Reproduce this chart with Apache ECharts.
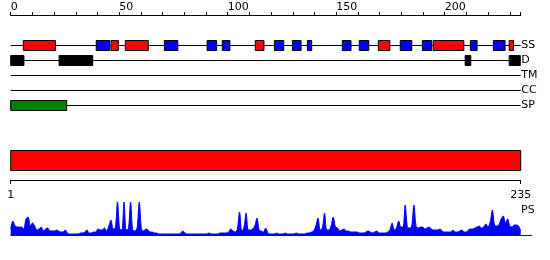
<!DOCTYPE html>
<html><head><meta charset="utf-8">
<script src="https://cdn.jsdelivr.net/npm/echarts@6/dist/echarts.min.js"></script>
<style>html,body{margin:0;padding:0;background:#fff}#c{width:550px;height:260px}</style>
</head><body><div id="c"></div>
<script>
// ---- data ----
const trackNames = ['SS', 'D', 'TM', 'CC', 'SP'];
const topTicks = [0, 50, 100, 150, 200];
const bottomTicks = [1, 235];
const sequenceSpan = [1, 235];
const helices = [[5.8,20.6],[46.2,49.6],[52.8,63.4],[112.7,116.7],[169.4,174.7],[194.7,208.8],[229.7,231.7]];
const strands = [[39.4,45.6],[70.8,77],[90.5,94.9],[97.5,101],[121.5,125.8],[129.8,133.8],[136.7,138.7],[152.8,156.8],[160.6,165],[179.5,184.8],[189.7,194],[211.8,214.9],[222.4,227.8]];
const disorder = [[0,6.1],[22.3,37.8],[209.4,212],[229.7,234.8]];
const transmembrane = [];
const coiledCoil = [];
const signalPeptide = [[0,25.8]];
const psValues = [
  6,14,9,8,8,8,6,16,18,9,
  12,9,5,6,8,4,6,7,4,4,
  4,5,4,3,3,5,2,1,1,1,
  1,1,2,2,3,5,2,2,3,3,
  6,5,5,7,4,9,15,6,7,33,
  6,5,33,5,6,33,5,4,7,33,
  6,4,6,5,3,3,2,2,1,1,
  1,1,1,1,1,1,1,1,2,4,
  2,1,1,1,1,1,1,1,1,1,
  1,2,1,1,1,1,2,2,2,2,
  3,6,4,3,6,23,4,7,22,5,
  5,6,9,17,5,4,3,7,2,1,
  1,1,2,1,1,1,2,1,1,1,
  1,2,1,1,1,1,2,2,3,4,
  9,17,5,7,22,5,5,9,18,8,
  7,4,5,6,4,4,3,3,3,3,
  2,2,2,3,4,3,2,3,4,2,
  2,2,2,3,5,12,5,7,14,8,
  8,30,8,7,9,30,9,7,8,8,
  6,7,8,6,5,5,5,6,4,3,
  3,3,3,5,3,3,4,5,3,3,
  5,6,6,7,8,9,7,8,11,8,
  13,25,10,9,10,16,19,12,16,9,
  8,10,10,9,4
];

// ---- build ----
const FONT = 'DejaVu Sans';
const boxData = [], boxColors = [];
function addBoxes(list, track, color) {
  list.forEach(([s, e]) => { boxData.push([s, e, track]); boxColors.push(color); });
}
addBoxes(helices, 0, '#ff0000');
addBoxes(strands, 0, '#0000ff');
addBoxes(disorder, 1, '#000000');
addBoxes(transmembrane, 2, '#ffa500');
addBoxes(coiledCoil, 3, '#800080');
addBoxes(signalPeptide, 4, '#008000');
const trackY = i => i + 2;
const HALF = 0.34;

const chart = echarts.init(document.getElementById('c'), null, { renderer: 'canvas' });
chart.setOption({
  animation: false,
  textStyle: { fontFamily: FONT },
  grid: [
    { left: 10.7, right: 29.3, top: 15, height: 105 },
    { left: 10.7, right: 29.3, top: 150, height: 30 },
    { left: 10.7, right: 18.4, top: 201, height: 34 }
  ],
  xAxis: [
    { gridIndex: 0, type: 'value', position: 'top', min: 0, max: 235, interval: 10,
      axisLine: { lineStyle: { color: '#000', width: 1 } },
      axisTick: { length: 3, lineStyle: { color: '#000' } },
      axisLabel: { formatter: v => topTicks.includes(v) ? String(v) : '', align: 'left', margin: 2,
        color: '#000', fontFamily: FONT, fontSize: 11 },
      splitLine: { show: false } },
    { gridIndex: 1, type: 'value', position: 'bottom', min: sequenceSpan[0], max: sequenceSpan[1],
      axisLine: { lineStyle: { color: '#000', width: 1 } },
      axisTick: { customValues: bottomTicks, length: 4, lineStyle: { color: '#000' } },
      axisLabel: { customValues: bottomTicks, margin: 10, color: '#000', fontFamily: FONT, fontSize: 11 },
      splitLine: { show: false } },
    { gridIndex: 2, type: 'value', min: 1, max: 240,
      axisLine: { lineStyle: { color: '#0000ff', width: 1 } },
      axisTick: { show: false }, axisLabel: { show: false }, splitLine: { show: false } }
  ],
  yAxis: [
    { gridIndex: 0, type: 'value', min: 0, max: 7, inverse: true, show: false },
    { gridIndex: 1, type: 'value', min: 0, max: 3, show: false },
    { gridIndex: 2, type: 'value', min: 0, max: 34, show: false }
  ],
  graphic: [
    { type: 'text', left: 521, top: 205, style: { text: 'PS', font: '11px "DejaVu Sans"', fill: '#000' } }
  ],
  series: [
    { type: 'custom', xAxisIndex: 0, yAxisIndex: 0, encode: { x: [0, 1], y: 2 },
      data: trackNames.map((n, i) => [0, 235, i]),
      renderItem: (params, api) => {
        const t = trackY(api.value(2));
        const a = api.coord([api.value(0), t]);
        const b = api.coord([api.value(1), t]);
        const y = Math.round(a[1]) + 0.5;
        return { type: 'group', children: [
          { type: 'line', shape: { x1: a[0], y1: y, x2: b[0], y2: y }, style: { stroke: '#000', lineWidth: 1 } },
          { type: 'text', x: b[0] + 0.5, y: y, style: { text: trackNames[params.dataIndex], fill: '#000',
            font: '11px "DejaVu Sans"', align: 'left', verticalAlign: 'middle' } }
        ] };
      } },
    { type: 'custom', xAxisIndex: 0, yAxisIndex: 0, encode: { x: [0, 1], y: 2 },
      data: boxData,
      renderItem: (params, api) => {
        const t = trackY(api.value(2));
        const p1 = api.coord([api.value(0), t - HALF]);
        const p2 = api.coord([api.value(1), t + HALF]);
        const y0 = Math.round(Math.min(p1[1], p2[1])) + 0.5;
        const y1 = Math.round(Math.max(p1[1], p2[1])) + 0.5;
        return { type: 'rect', shape: { x: p1[0], y: y0, width: p2[0] - p1[0], height: y1 - y0 },
          style: { fill: boxColors[params.dataIndex], stroke: '#000', lineWidth: 1 } };
      } },
    { type: 'custom', xAxisIndex: 1, yAxisIndex: 1, encode: { x: [0, 1] },
      data: [sequenceSpan],
      renderItem: (params, api) => {
        const p1 = api.coord([api.value(0), 3]);
        const p2 = api.coord([api.value(1), 1]);
        const y0 = Math.round(p1[1]) + 0.5, y1 = Math.round(p2[1]) + 0.5;
        return { type: 'rect', shape: { x: p1[0], y: y0, width: p2[0] - p1[0], height: y1 - y0 },
          style: { fill: '#ff0000', stroke: '#000', lineWidth: 1 } };
      } },
    { type: 'line', xAxisIndex: 2, yAxisIndex: 2,
      data: psValues.map((v, i) => [i + 1, v]),
      symbol: 'none', smooth: 0.3,
      lineStyle: { color: '#0000ff', width: 1 },
      itemStyle: { color: '#0000ff' },
      areaStyle: { color: '#0000ff', opacity: 1 } }
  ]
});
</script>
</body></html>
